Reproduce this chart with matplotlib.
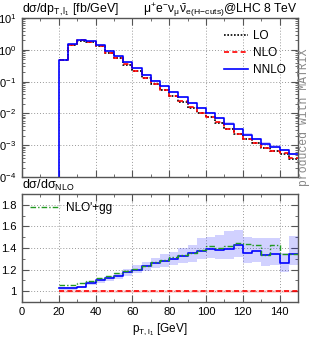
import matplotlib
matplotlib.use("Agg")
import matplotlib.pyplot as plt
import matplotlib.ticker as mticker
import numpy as np

# 5 GeV bins from 20 to 150 GeV
edges = np.arange(20, 155, 5)

# absolute distributions [fb/GeV]
nlo = [0.478, 1.463, 1.971, 1.767, 1.30, 0.821, 0.550, 0.347, 0.221, 0.135,
       0.0846, 0.0563, 0.0362, 0.0242, 0.01556, 0.01058, 0.00767, 0.00522,
       0.00337, 0.00231, 0.00159, 0.00118, 0.000839, 0.000664, 0.000556, 0.000387]
lo = [0.470, 1.440, 1.950, 1.740, 1.28, 0.805, 0.538, 0.340, 0.216, 0.132,
      0.0828, 0.0550, 0.0355, 0.0237, 0.01525, 0.01035, 0.00752, 0.00512,
      0.00330, 0.00226, 0.00156, 0.00115, 0.000822, 0.000650, 0.000545, 0.000380]

# ratios to NLO
nnlo_ratio = [1.025, 1.025, 1.04, 1.075, 1.10, 1.12, 1.145, 1.18, 1.20, 1.23,
              1.265, 1.28, 1.30, 1.325, 1.35, 1.37, 1.395, 1.38, 1.395, 1.43,
              1.35, 1.37, 1.335, 1.34, 1.26, 1.345]
nnlo_low = [1.015, 1.015, 1.03, 1.06, 1.08, 1.095, 1.115, 1.14, 1.165, 1.19,
            1.215, 1.225, 1.24, 1.265, 1.27, 1.30, 1.305, 1.30, 1.30, 1.32,
            1.26, 1.27, 1.235, 1.24, 1.18, 1.24]
nnlo_high = [1.035, 1.035, 1.05, 1.09, 1.12, 1.14, 1.17, 1.21, 1.245, 1.27,
             1.31, 1.34, 1.36, 1.40, 1.43, 1.49, 1.50, 1.52, 1.56, 1.565,
             1.50, 1.49, 1.49, 1.49, 1.35, 1.51]
nlo_gg = [1.06, 1.06, 1.075, 1.095, 1.125, 1.14, 1.165, 1.19, 1.205, 1.235,
          1.27, 1.285, 1.315, 1.335, 1.355, 1.38, 1.415, 1.40, 1.415, 1.45,
          1.44, 1.43, 1.335, 1.43, 1.34, 1.34]
nlo_band = [0.985, 1.015]

plt.rcParams["font.family"] = ["Liberation Sans", "DejaVu Sans"]
plt.rcParams["mathtext.fontset"] = "custom"
plt.rcParams["mathtext.rm"] = "Liberation Sans"
plt.rcParams["mathtext.it"] = "Liberation Sans:italic"
plt.rcParams["mathtext.bf"] = "Liberation Sans:bold"
plt.rcParams["font.size"] = 8

C_GRID = "#999999"
C_FRAME = "#555555"


def steps(vals):
    # repeat last value so the step reaches the last edge
    return np.r_[vals, vals[-1]]


def style_axis(ax):
    for s in ax.spines.values():
        s.set_color(C_FRAME)
        s.set_linewidth(1.0)
    ax.tick_params(which="both", direction="in", top=True, right=True,
                   color=C_FRAME, labelsize=8, pad=4)
    ax.tick_params(which="major", length=5)
    ax.tick_params(which="minor", length=2.5)
    ax.grid(True, which="major", color=C_GRID, linestyle=(0, (1, 2)), linewidth=0.7)
    ax.set_axisbelow(True)
    ax.set_xlim(0, 150)
    ax.xaxis.set_major_locator(mticker.MultipleLocator(20))
    ax.xaxis.set_minor_locator(mticker.MultipleLocator(10))


fig = plt.figure(figsize=(3.11, 3.40), dpi=100)
ax0 = fig.add_axes([0.0707, 0.479, 0.8875, 0.468])
ax1 = fig.add_axes([0.0707, 0.112, 0.8875, 0.317])

nlo_a = np.array(nlo)
lo_a = np.array(lo)
nnlo_a = nlo_a * np.array(nnlo_ratio)

# upper panel: bands
ax0.fill_between(edges, steps(nlo_a * np.array(nnlo_low)), steps(nlo_a * np.array(nnlo_high)),
                 step="post", color="#0000ff", alpha=0.2, linewidth=0)
ax0.fill_between(edges, steps(nlo_a * nlo_band[0]), steps(nlo_a * nlo_band[1]),
                 step="post", color="#ff0000", alpha=0.15, linewidth=0)

# upper panel: lines (NNLO rises from the bottom at 20 GeV)
ax0.plot(edges, steps(lo_a), drawstyle="steps-post", color="black",
         linestyle=(0, (1, 1)), lw=1.2, label="LO")
ax0.plot(edges, steps(nlo_a), drawstyle="steps-post", color="#ff0000",
         linestyle=(0, (3, 2)), lw=1.2, label="NLO")
ax0.plot(np.r_[edges[0], edges], np.r_[1e-6, steps(nnlo_a)], drawstyle="steps-post",
         color="#0000ff", lw=1.2, label="NNLO")

ax0.set_yscale("log")
ax0.set_ylim(1e-4, 10)
style_axis(ax0)
ax0.yaxis.set_major_locator(mticker.LogLocator(base=10, numticks=10))
ax0.yaxis.set_minor_locator(mticker.LogLocator(base=10, subs=np.arange(2, 10), numticks=20))
ax0.yaxis.set_minor_formatter(mticker.NullFormatter())
ax0.tick_params(axis="x", labelbottom=False)
ax0.legend(loc="upper right", frameon=False, fontsize=8.5, handlelength=2.0,
           handletextpad=0.5, labelspacing=0.45, borderaxespad=0.6)

# lower panel
ax1.fill_between(edges, steps(nnlo_low), steps(nnlo_high), step="post",
                 color="#0000ff", alpha=0.18, linewidth=0)
ax1.fill_between([20, 150], [nlo_band[0]] * 2, [nlo_band[1]] * 2,
                 color="#ff0000", alpha=0.15, linewidth=0)
ax1.plot(edges, steps(np.ones(len(nlo))), drawstyle="steps-post", color="#ff0000",
         linestyle=(0, (3, 2)), lw=1.2)
ax1.plot(edges, steps(nnlo_ratio), drawstyle="steps-post", color="#0000ff", lw=1.2)
ax1.plot(edges, steps(nlo_gg), drawstyle="steps-post", color="#229922",
         linestyle=(0, (4, 1.5, 1, 1.5)), lw=1.0, label="NLO'+gg")

ax1.set_ylim(0.9, 1.9)
style_axis(ax1)
ax1.yaxis.set_major_locator(mticker.FixedLocator([1.0, 1.2, 1.4, 1.6, 1.8]))
ax1.yaxis.set_minor_locator(mticker.MultipleLocator(0.1))
ax1.yaxis.set_major_formatter(mticker.FormatStrFormatter("%g"))
ax1.legend(loc="upper left", frameon=False, fontsize=8.5, handlelength=2.5,
           handletextpad=0.5, borderaxespad=0.3)
ax1.set_xlabel(r"p$_{\mathrm{T,l_1}}$ [GeV]", fontsize=8.5, labelpad=3)

# titles and annotations
fig.text(0.0707, 0.962, r"dσ/dp$_{\mathrm{T,l_1}}$ [fb/GeV]", fontsize=8.9,
         ha="left", va="baseline")
fig.text(0.958, 0.962,
         r"$\mathrm{μ}^{+}\mathrm{e}^{-}\mathrm{ν}_{\mathrm{μ}}\bar{\mathrm{ν}}_{\mathrm{e}}"
         r"{}_{\mathrm{(H\!-\!cuts)}}$@LHC 8 TeV",
         fontsize=8.7, ha="right", va="baseline")
fig.text(0.0707, 0.443, r"dσ/dσ$_{\mathrm{NLO}}$", fontsize=9, ha="left", va="baseline")
fig.text(0.978, 0.655, "produced with MATRIX", rotation=90, family="Liberation Mono",
         fontsize=8.3, color="#888888", ha="center", va="center")

fig.savefig("out.png", dpi=100)
